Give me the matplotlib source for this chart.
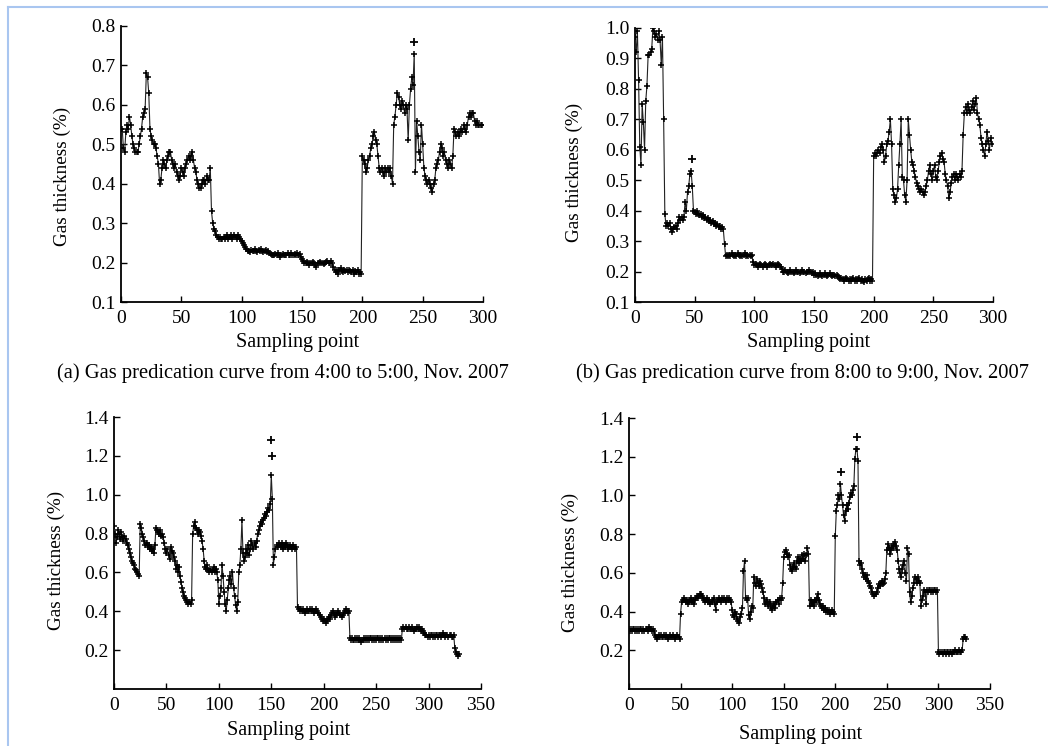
import matplotlib
matplotlib.use("Agg")
import matplotlib.pyplot as plt
from matplotlib.lines import Line2D
import numpy as np

plt.rcParams['font.family'] = ['Liberation Serif', 'DejaVu Serif']

# ---------------- data ----------------
gas_a = [
    0.54, 0.54, 0.49, 0.48, 0.53, 0.55, 0.54, 0.57, 0.55, 0.52,
    0.50, 0.49, 0.48, 0.48, 0.48, 0.50, 0.52, 0.54, 0.57, 0.58,
    0.59, 0.68, 0.67, 0.63, 0.54, 0.52, 0.51, 0.50, 0.50, 0.49,
    0.47, 0.45, 0.40, 0.41, 0.44, 0.46, 0.45, 0.44, 0.46, 0.47,
    0.48, 0.48, 0.46, 0.45, 0.44, 0.45, 0.43, 0.42, 0.41, 0.42,
    0.44, 0.43, 0.42, 0.44, 0.45, 0.46, 0.47, 0.46, 0.47, 0.48,
    0.46, 0.44, 0.43, 0.41, 0.40, 0.39, 0.39, 0.40, 0.41, 0.41,
    0.40, 0.42, 0.41, 0.41, 0.44, 0.33, 0.30, 0.285, 0.28, 0.27,
    0.265, 0.26, 0.265, 0.26, 0.26, 0.265, 0.26, 0.265, 0.27, 0.26,
    0.265, 0.27, 0.26, 0.265, 0.27, 0.265, 0.26, 0.27, 0.265, 0.26,
    0.255, 0.25, 0.245, 0.24, 0.235, 0.23, 0.23, 0.228, 0.232, 0.23,
    0.23, 0.235, 0.23, 0.228, 0.232, 0.23, 0.235, 0.23, 0.228, 0.23,
    0.232, 0.228, 0.23, 0.225, 0.222, 0.22, 0.22, 0.218, 0.222, 0.22,
    0.225, 0.22, 0.215, 0.22, 0.222, 0.22, 0.218, 0.22, 0.224, 0.22,
    0.22, 0.225, 0.22, 0.218, 0.222, 0.22, 0.225, 0.22, 0.222, 0.215,
    0.21, 0.205, 0.20, 0.198, 0.202, 0.20, 0.195, 0.20, 0.198, 0.202,
    0.20, 0.195, 0.19, 0.198, 0.20, 0.202, 0.198, 0.20, 0.196, 0.20,
    0.202, 0.205, 0.20, 0.198, 0.205, 0.20, 0.19, 0.18, 0.175, 0.18,
    0.17, 0.18, 0.185, 0.178, 0.175, 0.18, 0.178, 0.182, 0.175, 0.18,
    0.178, 0.175, 0.18, 0.172, 0.178, 0.175, 0.18, 0.17, 0.175, 0.172,
    0.47, 0.46, 0.45, 0.43, 0.44, 0.46, 0.47, 0.49, 0.50, 0.52,
    0.53, 0.51, 0.50, 0.47, 0.44, 0.43, 0.44, 0.43, 0.42, 0.44,
    0.43, 0.44, 0.43, 0.44, 0.42, 0.40, 0.55, 0.57, 0.60, 0.63,
    0.62, 0.60, 0.59, 0.61, 0.60, 0.58, 0.60, 0.59, 0.51, 0.60,
    0.64, 0.67, 0.65, 0.73, 0.43, 0.56, 0.52, 0.48, 0.46, 0.55,
    0.50, 0.44, 0.42, 0.41, 0.40, 0.41, 0.40, 0.39, 0.38, 0.40,
    0.41, 0.44, 0.45, 0.46, 0.48, 0.50, 0.49, 0.47, 0.48, 0.46,
    0.45, 0.44, 0.46, 0.45, 0.44, 0.47, 0.54, 0.53, 0.52, 0.53,
    0.52, 0.53, 0.54, 0.53, 0.55, 0.54, 0.53, 0.55, 0.57, 0.58,
    0.57, 0.58, 0.58, 0.56, 0.55, 0.56, 0.55, 0.55, 0.55, 0.55,
]
out_a_x = [243]
out_a_y = [0.76]

gas_b = [
    0.97, 0.92, 0.99, 0.83, 0.61, 0.55, 0.75, 0.69, 0.60, 0.76,
    0.81, 0.91, 0.91, 0.92, 0.93, 1.00, 0.99, 0.97, 0.98, 0.96,
    0.99, 0.96, 0.88, 0.97, 0.70, 0.39, 0.35, 0.36, 0.35, 0.36,
    0.34, 0.33, 0.34, 0.345, 0.35, 0.34, 0.36, 0.38, 0.37, 0.38,
    0.37, 0.38, 0.43, 0.40, 0.46, 0.48, 0.52, 0.53, 0.48, 0.40,
    0.395, 0.39, 0.40, 0.39, 0.385, 0.39, 0.38, 0.385, 0.375, 0.38,
    0.37, 0.375, 0.365, 0.37, 0.36, 0.365, 0.355, 0.36, 0.35, 0.355,
    0.345, 0.35, 0.34, 0.345, 0.34, 0.29, 0.25, 0.255, 0.25, 0.255,
    0.25, 0.26, 0.255, 0.25, 0.255, 0.25, 0.26, 0.255, 0.25, 0.255,
    0.25, 0.255, 0.26, 0.25, 0.255, 0.25, 0.255, 0.25, 0.255, 0.23,
    0.22, 0.225, 0.22, 0.215, 0.22, 0.225, 0.22, 0.215, 0.22, 0.225,
    0.22, 0.215, 0.22, 0.225, 0.22, 0.22, 0.225, 0.22, 0.215, 0.22,
    0.225, 0.22, 0.215, 0.21, 0.20, 0.20, 0.205, 0.20, 0.195, 0.20,
    0.205, 0.20, 0.20, 0.195, 0.20, 0.205, 0.20, 0.20, 0.195, 0.20,
    0.205, 0.20, 0.20, 0.195, 0.20, 0.20, 0.205, 0.20, 0.195, 0.20,
    0.19, 0.195, 0.19, 0.185, 0.19, 0.195, 0.19, 0.185, 0.19, 0.195,
    0.19, 0.185, 0.19, 0.195, 0.19, 0.185, 0.19, 0.19, 0.185, 0.19,
    0.185, 0.18, 0.175, 0.18, 0.175, 0.17, 0.175, 0.18, 0.175, 0.17,
    0.175, 0.17, 0.175, 0.18, 0.17, 0.175, 0.17, 0.175, 0.18, 0.17,
    0.175, 0.17, 0.165, 0.175, 0.17, 0.175, 0.18, 0.17, 0.175, 0.17,
    0.58, 0.59, 0.58, 0.59, 0.60, 0.59, 0.61, 0.62, 0.60, 0.56,
    0.58, 0.62, 0.63, 0.66, 0.70, 0.62, 0.47, 0.45, 0.43, 0.44,
    0.47, 0.55, 0.62, 0.70, 0.51, 0.50, 0.45, 0.43, 0.50, 0.70,
    0.65, 0.60, 0.56, 0.55, 0.53, 0.51, 0.49, 0.48, 0.47, 0.46,
    0.47, 0.46, 0.45, 0.46, 0.48, 0.50, 0.53, 0.55, 0.52, 0.50,
    0.53, 0.55, 0.51, 0.50, 0.53, 0.56, 0.58, 0.59, 0.57, 0.56,
    0.52, 0.50, 0.48, 0.44, 0.46, 0.49, 0.51, 0.52, 0.50, 0.52,
    0.51, 0.50, 0.52, 0.51, 0.53, 0.65, 0.72, 0.74, 0.72, 0.75,
    0.73, 0.72, 0.74, 0.76, 0.73, 0.75, 0.77, 0.72, 0.70, 0.68,
    0.64, 0.62, 0.60, 0.58, 0.62, 0.66, 0.63, 0.60, 0.64, 0.62,
]
out_b_x = [48]
out_b_y = [0.57]

gas_c = [
    0.84, 0.80, 0.75, 0.78, 0.82, 0.80, 0.77, 0.81, 0.78, 0.76,
    0.79, 0.77, 0.75, 0.74, 0.72, 0.70, 0.68, 0.66, 0.65, 0.64,
    0.62, 0.61, 0.60, 0.59, 0.58, 0.85, 0.83, 0.80, 0.78, 0.76,
    0.74, 0.75, 0.73, 0.74, 0.72, 0.73, 0.71, 0.72, 0.70, 0.74,
    0.83, 0.82, 0.81, 0.80, 0.82, 0.79, 0.80, 0.78, 0.75, 0.72,
    0.70, 0.72, 0.69, 0.67, 0.73, 0.71, 0.70, 0.68, 0.66, 0.62,
    0.64, 0.60, 0.63, 0.58, 0.55, 0.52, 0.50, 0.48, 0.47, 0.46,
    0.45, 0.44, 0.45, 0.44, 0.46, 0.80, 0.84, 0.86, 0.83, 0.82,
    0.80, 0.82, 0.81, 0.79, 0.76, 0.72, 0.66, 0.63, 0.62, 0.64,
    0.61, 0.60, 0.62, 0.60, 0.61, 0.63, 0.60, 0.62, 0.60, 0.56,
    0.44, 0.48, 0.52, 0.64, 0.58, 0.50, 0.44, 0.40, 0.46, 0.52,
    0.56, 0.58, 0.54, 0.60, 0.52, 0.48, 0.43, 0.40, 0.45, 0.60,
    0.64, 0.72, 0.87, 0.70, 0.66, 0.68, 0.72, 0.70, 0.74, 0.69,
    0.72, 0.76, 0.74, 0.72, 0.75, 0.73, 0.76, 0.80, 0.82, 0.84,
    0.86, 0.85, 0.87, 0.88, 0.90, 0.89, 0.91, 0.93, 0.92, 0.95,
    1.10, 0.98, 0.64, 0.68, 0.72, 0.74, 0.73, 0.75, 0.74, 0.73,
    0.75, 0.72, 0.74, 0.73, 0.75, 0.74, 0.72, 0.73, 0.74, 0.73,
    0.72, 0.74, 0.73, 0.72, 0.73, 0.42, 0.41, 0.40, 0.41, 0.40,
    0.41, 0.40, 0.39, 0.40, 0.41, 0.40, 0.40, 0.41, 0.40, 0.41,
    0.40, 0.39, 0.40, 0.41, 0.40, 0.39, 0.38, 0.37, 0.36, 0.35,
    0.36, 0.35, 0.34, 0.35, 0.36, 0.37, 0.36, 0.38, 0.39, 0.40,
    0.39, 0.37, 0.38, 0.39, 0.40, 0.39, 0.38, 0.37, 0.38, 0.39,
    0.40, 0.41, 0.40, 0.39, 0.40, 0.26, 0.25, 0.26, 0.25, 0.25,
    0.26, 0.25, 0.26, 0.25, 0.26, 0.25, 0.24, 0.25, 0.26, 0.25,
    0.26, 0.25, 0.26, 0.25, 0.26, 0.26, 0.25, 0.26, 0.25, 0.26,
    0.25, 0.26, 0.26, 0.25, 0.26, 0.25, 0.26, 0.25, 0.26, 0.25,
    0.26, 0.25, 0.26, 0.26, 0.25, 0.26, 0.25, 0.26, 0.25, 0.26,
    0.25, 0.26, 0.25, 0.26, 0.25, 0.31, 0.32, 0.31, 0.32, 0.31,
    0.31, 0.32, 0.31, 0.31, 0.32, 0.31, 0.30, 0.31, 0.31, 0.32,
    0.31, 0.32, 0.31, 0.30, 0.31, 0.30, 0.29, 0.28, 0.28, 0.27,
    0.28, 0.27, 0.28, 0.28, 0.27, 0.28, 0.27, 0.28, 0.28, 0.27,
    0.28, 0.28, 0.27, 0.28, 0.29, 0.28, 0.27, 0.28, 0.28, 0.27,
    0.28, 0.28, 0.27, 0.27, 0.28, 0.21, 0.19, 0.18, 0.17, 0.18,
]
out_c_x = [150, 151]
out_c_y = [1.28, 1.20]

gas_d = [
    0.31, 0.30, 0.31, 0.30, 0.31, 0.31, 0.30, 0.31, 0.30, 0.31,
    0.30, 0.31, 0.31, 0.30, 0.31, 0.30, 0.31, 0.31, 0.30, 0.32,
    0.31, 0.31, 0.30, 0.31, 0.30, 0.28, 0.27, 0.26, 0.27, 0.28,
    0.27, 0.28, 0.27, 0.27, 0.28, 0.27, 0.28, 0.27, 0.26, 0.27,
    0.28, 0.27, 0.27, 0.28, 0.27, 0.26, 0.27, 0.28, 0.27, 0.26,
    0.39, 0.45, 0.46, 0.47, 0.46, 0.45, 0.46, 0.44, 0.45, 0.46,
    0.47, 0.45, 0.46, 0.44, 0.46, 0.47, 0.48, 0.47, 0.48, 0.49,
    0.49, 0.48, 0.47, 0.46, 0.45, 0.46, 0.47, 0.45, 0.46, 0.44,
    0.45, 0.46, 0.47, 0.44, 0.41, 0.45, 0.46, 0.47, 0.46, 0.45,
    0.47, 0.46, 0.47, 0.46, 0.45, 0.47, 0.46, 0.47, 0.46, 0.45,
    0.41, 0.38, 0.37, 0.40, 0.39, 0.36, 0.35, 0.34, 0.37, 0.39,
    0.42, 0.61, 0.66, 0.47, 0.46, 0.47, 0.38, 0.36, 0.40, 0.43,
    0.42, 0.58, 0.55, 0.53, 0.57, 0.55, 0.53, 0.56, 0.54, 0.52,
    0.50, 0.47, 0.44, 0.45, 0.46, 0.43, 0.44, 0.45, 0.42, 0.41,
    0.43, 0.44, 0.42, 0.45, 0.46, 0.44, 0.47, 0.46, 0.47, 0.55,
    0.68, 0.71, 0.72, 0.70, 0.68, 0.69, 0.64, 0.62, 0.61, 0.63,
    0.65, 0.63, 0.62, 0.66, 0.68, 0.65, 0.67, 0.66, 0.69, 0.67,
    0.70, 0.66, 0.69, 0.73, 0.70, 0.43, 0.46, 0.44, 0.45, 0.43,
    0.46, 0.45, 0.47, 0.49, 0.46, 0.44, 0.43, 0.42, 0.43, 0.41,
    0.42, 0.40, 0.41, 0.40, 0.41, 0.39, 0.40, 0.41, 0.40, 0.39,
    0.79, 0.92, 0.95, 1.00, 0.98, 1.06, 1.00, 0.95, 0.90, 0.87,
    0.92, 0.95, 0.93, 0.96, 0.99, 1.01, 1.00, 1.03, 1.05, 1.19,
    1.24, 1.24, 1.18, 0.66, 0.64, 0.65, 0.62, 0.60, 0.58, 0.59,
    0.57, 0.59, 0.56, 0.55, 0.53, 0.52, 0.50, 0.49, 0.48, 0.49,
    0.50, 0.52, 0.54, 0.53, 0.55, 0.56, 0.54, 0.55, 0.57, 0.60,
    0.72, 0.75, 0.73, 0.70, 0.72, 0.74, 0.73, 0.75, 0.76, 0.74,
    0.72, 0.66, 0.62, 0.60, 0.58, 0.62, 0.64, 0.66, 0.60, 0.56,
    0.73, 0.70, 0.50, 0.45, 0.48, 0.52, 0.55, 0.58, 0.57, 0.55,
    0.58, 0.56, 0.55, 0.43, 0.46, 0.48, 0.51, 0.50, 0.44, 0.51,
    0.50, 0.51, 0.51, 0.50, 0.51, 0.50, 0.51, 0.51, 0.50, 0.51,
    0.19, 0.18, 0.19, 0.19, 0.18, 0.19, 0.19, 0.18, 0.19, 0.19,
    0.18, 0.19, 0.19, 0.18, 0.19, 0.19, 0.20, 0.19, 0.19, 0.19,
    0.20, 0.19, 0.19, 0.20, 0.26, 0.27, 0.27, 0.26,
]
out_d_x = [206, 221]
out_d_y = [1.12, 1.30]

captions = ["(a) Gas predication curve from 4:00 to 5:00, Nov. 2007",
            "(b) Gas predication curve from 8:00 to 9:00, Nov. 2007"]
y_label = "Gas thickness (%)"
x_label = "Sampling point"

W, H = 1048, 746
fig = plt.figure(figsize=(W / 100, H / 100), dpi=100)
fig.patch.set_facecolor('white')


def frac(x, y):
    return x / W, 1 - y / H


def make_axes(left, right, top, bottom):
    l, b = frac(left, bottom)
    r, t = frac(right, top)
    return fig.add_axes([l, b, r - l, t - b])


panels = [
    dict(y=gas_a, ox=out_a_x, oy=out_a_y, box=(121, 483, 26, 302),
         xlim=(0, 300), ylim=(0.1, 0.8), yt=np.arange(0.1, 0.81, 0.1),
         xl=(298, 342), yl=(62, 176)),
    dict(y=gas_b, ox=out_b_x, oy=out_b_y, box=(635, 993, 28, 302),
         xlim=(0, 300), ylim=(0.1, 1.0), yt=np.arange(0.1, 1.01, 0.1),
         xl=(809, 342), yl=(574, 172)),
    dict(y=gas_c, ox=out_c_x, oy=out_c_y, box=(114, 481, 417, 689),
         xlim=(0, 350), ylim=(0.0, 1.4), yt=np.arange(0.2, 1.41, 0.2),
         xl=(289, 731), yl=(56, 560)),
    dict(y=gas_d, ox=out_d_x, oy=out_d_y, box=(629, 990, 418, 689),
         xlim=(0, 350), ylim=(0.0, 1.4), yt=np.arange(0.2, 1.41, 0.2),
         xl=(801, 734), yl=(570, 562)),
]

fs_tick = 14
fs_xl = 14.5
fs_yl = 13.8
fs_cap = 14.8
for p in panels:
    ax = make_axes(*p['box'])
    yv = np.array(p['y'])
    xv = np.arange(len(yv))
    ax.plot(xv, yv, color='#222222', lw=0.8, marker='+', ms=5, mew=1.1,
            mec='black', zorder=3)
    ax.plot(p['ox'], p['oy'], ls='none', marker='+', ms=5.5, mew=1.3,
            color='black', zorder=3)
    ax.set_xlim(*p['xlim'])
    ax.set_ylim(*p['ylim'])
    ax.set_xticks(np.arange(p['xlim'][0], p['xlim'][1] + 1, 50))
    ax.set_yticks(p['yt'])
    ax.set_yticklabels([f"{v:.1f}" for v in p['yt']])
    for s in ('top', 'right'):
        ax.spines[s].set_visible(False)
    for s in ('left', 'bottom'):
        ax.spines[s].set_linewidth(1.3)
    ax.tick_params(direction='in', length=4, width=1.0, labelsize=fs_tick)
    ax.tick_params(axis='x', pad=6)
    ax.tick_params(axis='y', pad=4)
    fx, fy = frac(*p['xl'])
    fig.text(fx, fy, x_label, fontsize=fs_xl, ha='center', va='center')
    fx, fy = frac(*p['yl'])
    fig.text(fx, fy, y_label, fontsize=fs_yl, ha='center', va='center',
             rotation=90)

fx, fy = frac(283, 373)
fig.text(fx, fy, captions[0], fontsize=fs_cap, ha='center', va='center')
fx, fy = frac(803, 373)
fig.text(fx, fy, captions[1], fontsize=fs_cap, ha='center', va='center')

# light blue page frame
frame_col = '#a9c6f0'
fig.add_artist(Line2D([8 / W, 1.0], [1 - 7 / H, 1 - 7 / H], color=frame_col,
                      lw=1.5, transform=fig.transFigure))
fig.add_artist(Line2D([8 / W, 8 / W], [0.0, 1 - 7 / H], color=frame_col,
                      lw=1.5, transform=fig.transFigure))

fig.savefig("out.png", dpi=100, facecolor='white')
